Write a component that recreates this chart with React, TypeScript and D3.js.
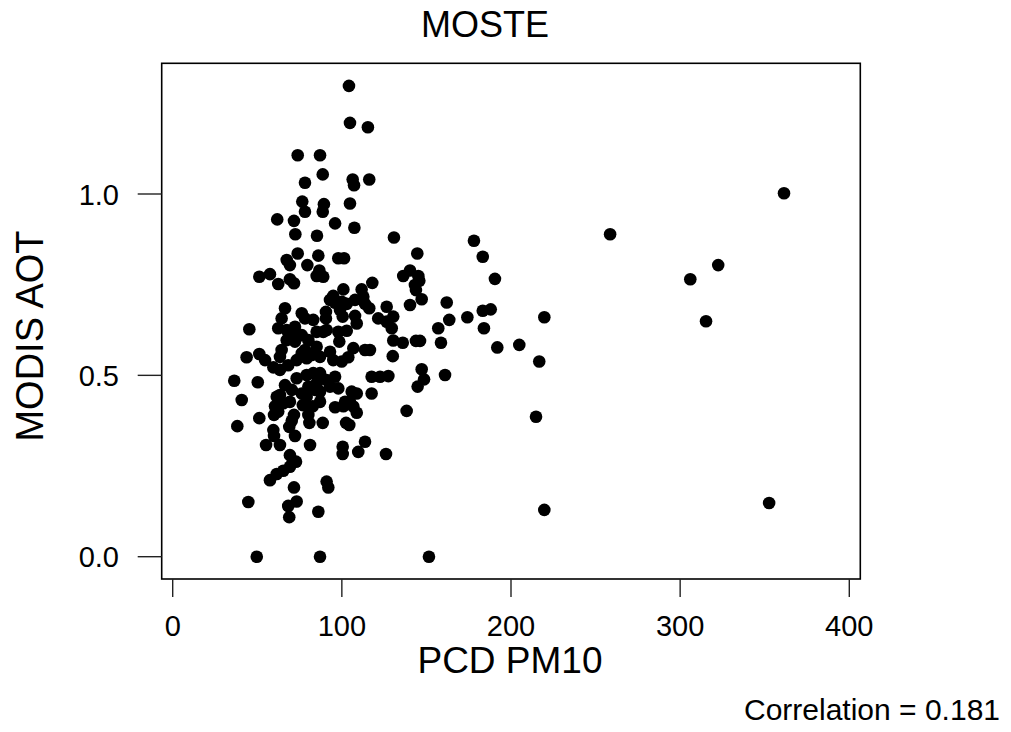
import * as d3 from 'd3'

const pm10 = [
  104.2, 104.8, 115.4, 73.9, 87.1, 88.7, 78.2, 106.4, 107.2, 116.2,
  76.6, 78.2, 89.4, 88.7, 104.8, 61.8, 71.7, 96.0, 107.4, 72.5,
  85.3, 130.8, 73.9, 86.1, 97.9, 101.3, 67.4, 144.6, 178.1, 183.3,
  190.5, 140.3, 136.3, 145.2, 145.8, 143.8, 147.2, 140.3, 162.0, 163.5,
  157.0, 174.2, 183.3, 188.0, 184.0, 191.9, 204.9, 216.7, 219.7, 136.0,
  143.8, 146.2, 158.6, 147.2, 148.6, 144.8, 161.0, 138.3, 214.8, 219.7,
  151.5, 258.6, 306.0, 322.5, 315.3, 361.4, 352.6, 49.7, 87.1, 44.7,
  86.1, 68.9, 68.3, 73.3, 71.7, 91.0, 92.0, 57.5, 61.5, 65.4,
  69.3, 70.9, 69.3, 72.9, 38.2, 51.2, 55.2, 63.4, 59.9, 59.5,
  72.3, 81.2, 68.9, 70.4, 71.7, 80.8, 88.7, 80.2, 76.9, 82.8,
  60.5, 65.4, 59.9, 96.0, 100.9, 108.8, 102.5, 104.4, 113.7, 109.7,
  100.5, 100.5, 126.1, 40.8, 69.3, 79.6, 86.7, 89.0, 85.1, 51.2,
  57.5, 62.4, 69.3, 71.7, 118.0, 100.9, 111.7, 94.9, 93.0, 96.0,
  99.9, 102.9, 107.8, 112.7, 113.7, 116.2, 126.5, 143.2, 66.4, 76.3,
  78.2, 83.1, 90.6, 90.6, 98.9, 100.5, 107.8, 108.8, 121.5, 126.5,
  130.4, 129.5, 64.4, 62.4, 45.3, 72.3, 69.3, 67.4, 73.3, 76.3,
  80.2, 85.1, 89.0, 91.0, 97.9, 102.9, 98.5, 106.8, 113.7, 116.6,
  130.4, 130.1, 43.7, 51.2, 54.6, 64.4, 63.4, 76.3, 79.2, 85.1,
  87.1, 93.0, 94.9, 99.9, 103.8, 59.5, 63.4, 36.4, 50.3, 73.3,
  79.2, 83.1, 87.1, 96.0, 66.4, 63.4, 62.4, 70.4, 76.3, 80.2,
  84.1, 87.1, 97.9, 105.8, 108.8, 101.9, 117.6, 117.6, 122.6, 127.5,
  67.4, 72.3, 78.2, 82.2, 73.3, 68.3, 85.1, 91.0, 79.2, 61.5,
  69.3, 87.1, 93.0, 104.8, 106.8,
]

const aot = [
  1.298, 1.196, 1.184, 1.107, 1.107, 1.054, 1.031, 1.040, 1.024, 1.040,
  0.979, 0.951, 0.972, 0.951, 0.974, 0.930, 0.926, 0.919, 0.907, 0.889,
  0.885, 0.880, 0.836, 0.830, 0.823, 0.823, 0.818, 0.836, 0.871, 0.827,
  0.766, 0.789, 0.774, 0.774, 0.761, 0.735, 0.710, 0.694, 0.701, 0.653,
  0.630, 0.660, 0.678, 0.682, 0.630, 0.577, 0.584, 0.538, 0.660, 0.590,
  0.595, 0.595, 0.590, 0.517, 0.489, 0.469, 0.501, 0.402, 0.386, 0.129,
  0.000, 0.889, 0.765, 0.804, 0.649, 1.002, 0.148, 0.000, 0.000, 0.151,
  0.124, 0.109, 0.140, 0.152, 0.191, 0.207, 0.191, 0.211, 0.228, 0.237,
  0.248, 0.262, 0.280, 0.262, 0.360, 0.382, 0.308, 0.308, 0.333, 0.349,
  0.333, 0.308, 0.358, 0.375, 0.391, 0.369, 0.369, 0.391, 0.418, 0.415,
  0.415, 0.423, 0.391, 0.412, 0.415, 0.397, 0.369, 0.363, 0.317, 0.289,
  0.303, 0.283, 0.283, 0.432, 0.804, 0.804, 0.789, 0.772, 0.774, 0.772,
  0.779, 0.752, 0.765, 0.754, 0.755, 0.737, 0.737, 0.719, 0.708, 0.700,
  0.703, 0.697, 0.708, 0.717, 0.697, 0.685, 0.689, 0.749, 0.685, 0.671,
  0.657, 0.653, 0.675, 0.657, 0.680, 0.662, 0.664, 0.643, 0.657, 0.648,
  0.662, 0.630, 0.657, 0.630, 0.627, 0.634, 0.616, 0.597, 0.607, 0.611,
  0.597, 0.620, 0.620, 0.625, 0.620, 0.623, 0.593, 0.575, 0.570, 0.570,
  0.596, 0.553, 0.550, 0.559, 0.542, 0.570, 0.551, 0.561, 0.547, 0.579,
  0.551, 0.565, 0.542, 0.538, 0.550, 0.522, 0.515, 0.485, 0.481, 0.492,
  0.501, 0.506, 0.506, 0.496, 0.473, 0.446, 0.400, 0.460, 0.450, 0.469,
  0.460, 0.455, 0.464, 0.455, 0.450, 0.427, 0.450, 0.496, 0.496, 0.498,
  0.625, 0.593, 0.570, 0.556, 0.542, 0.528, 0.478, 0.487, 0.441, 0.441,
  0.427, 0.427, 0.469, 0.427, 0.414,
]

const xTicks = [0, 100, 200, 300, 400]
const yTicks = [0, 0.5, 1.0]
const TITLE = 'MOSTE'
const X_LABEL = 'PCD PM10'
const Y_LABEL = 'MODIS AOT'
const NOTE = 'Correlation = 0.181'

const W = 1011
const H = 732
const box = { l: 161.7, r: 860.3, t: 63.3, b: 579 }
const FONT = 'Liberation Sans, Arial, sans-serif'

export default function App() {
  const x = d3.scaleLinear().domain([0, 400]).range([172.7, 849.3])
  const y = d3.scaleLinear().domain([0, 1]).range([556.7, 194])
  const points = pm10.map((v, i) => ({ x: v, y: aot[i] }))

  return (
    <svg width={W} height={H} viewBox={`0 0 ${W} ${H}`}
      style={{ position: 'absolute', left: 0, top: 0, display: 'block', background: '#fff' }}
      fontFamily={FONT}>
      <rect x={0} y={0} width={W} height={H} fill="#fff" />

      {points.map((d, i) => (
        <circle key={i} cx={x(d.x)} cy={y(d.y)} r={6.3} fill="#000" />
      ))}

      <rect x={box.l} y={box.t} width={box.r - box.l} height={box.b - box.t}
        fill="none" stroke="#000" strokeWidth={1.6} />

      {xTicks.map(t => (
        <g key={'x' + t}>
          <line x1={x(t)} x2={x(t)} y1={box.b} y2={box.b + 18} stroke="#222" strokeWidth={1.4} />
          <text x={x(t)} y={636} textAnchor="middle" fontSize={29} fill="#000">{t}</text>
        </g>
      ))}

      {yTicks.map(t => (
        <g key={'y' + t}>
          <line x1={box.l - 24} x2={box.l} y1={y(t)} y2={y(t)} stroke="#222" strokeWidth={1.4} />
          <text x={119} y={y(t) + 10.5} textAnchor="end" fontSize={29} fill="#000">{d3.format('.1f')(t)}</text>
        </g>
      ))}

      <text x={485} y={37} textAnchor="middle" fontSize={36} fill="#000">{TITLE}</text>
      <text x={510} y={673} textAnchor="middle" fontSize={37} fill="#000">{X_LABEL}</text>
      <text transform={`translate(43,336) rotate(-90)`} textAnchor="middle" fontSize={38} fill="#000">{Y_LABEL}</text>
      <text x={1000} y={720} textAnchor="end" fontSize={30} fill="#000">{NOTE}</text>
    </svg>
  )
}
